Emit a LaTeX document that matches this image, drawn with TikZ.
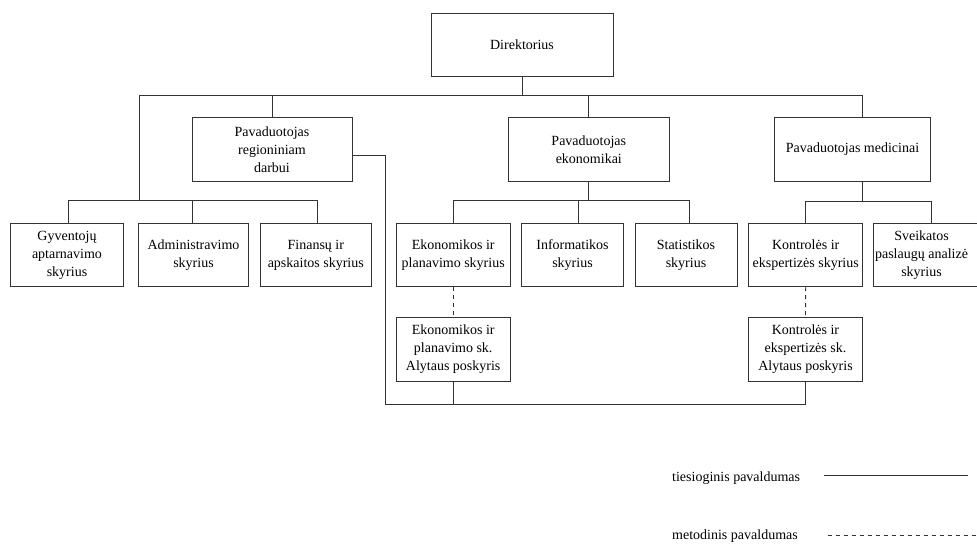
\documentclass[tikz,border=0pt]{standalone}
\usepackage{fontspec}
\setmainfont{Liberation Serif}
\newcommand\orgfs{\fontsize{14}{18}\selectfont}
\definecolor{lc}{gray}{0.2}
\tikzset{
  box/.style={draw=lc, line width=0.9pt, fill=white, align=center, inner sep=0pt,
              font=\orgfs, minimum height=63.5pt},
  conn/.style={draw=lc, line width=0.9pt},
  meth/.style={draw=lc, line width=0.9pt, dash pattern=on 4pt off 4pt},
}
\begin{document}
\begin{tikzpicture}[x=1pt,y=-1pt]
\useasboundingbox (0,0) rectangle (977,544);
\clip (0,0) rectangle (977,544);
% --- nodes
\node[box, minimum width=182pt] (dir) at (522,44.7) {Direktorius};
\node[box, minimum width=160pt] (reg) at (272,149.3) {Pavaduotojas\\regioniniam\\darbui};
\node[box, minimum width=161pt] (eko) at (588.8,149.3) {Pavaduotojas\\ekonomikai};
\node[box, minimum width=156pt] (med) at (852.5,149.3) {Pavaduotojas medicinai};

\node[box, minimum width=112.6pt] (gy)  at (67,255)    {Gyventojų\\aptarnavimo\\skyrius};
\node[box, minimum width=109.6pt] (adm) at (193.5,255) {Administravimo\\skyrius};
\node[box, minimum width=111pt]   (fin) at (315.8,255) {Finansų ir\\apskaitos skyrius};

\node[box, minimum width=113.7pt] (ekp) at (453.2,255) {Ekonomikos ir\\planavimo skyrius};
\node[box, minimum width=101.6pt] (inf) at (572.5,255) {Informatikos\\skyrius};
\node[box, minimum width=102pt]   (sta) at (686,255)   {Statistikos\\skyrius};

\node[box, minimum width=114pt] (kon) at (805.7,255) {Kontrolės ir\\ekspertizės skyrius};
\node[box, minimum width=116pt,
      label={[xshift=-9.5pt, align=center, font=\orgfs]center:Sveikatos\\paslaugų analizė\\skyrius}]
      (sve) at (931,255) {};

\node[box, minimum width=113.7pt] (ekA)  at (453.2,349.3) {Ekonomikos ir\\planavimo sk.\\Alytaus poskyris};
\node[box, minimum width=113.6pt] (konA) at (805.5,349.3) {Kontrolės ir\\ekspertizės sk.\\Alytaus poskyris};

% --- coordinates
\coordinate (lb) at (139,95);
\coordinate (rb) at (862,95);
\coordinate (ls) at (139,200);
\coordinate (es) at (0,200);
\coordinate (ms) at (0,201);
\coordinate (rc) at (385,404.3);

% --- top level
\draw[conn] (dir.south) -- (dir.south |- lb);
\draw[conn] (lb) -- (rb);
\draw[conn] (lb) -- (ls);
\draw[conn] (reg.north) -- (reg.north |- lb);
\draw[conn] (eko.north) -- (eko.north |- lb);
\draw[conn] (rb) -- (rb |- med.north);

% --- left group
\draw[conn] ([xshift=1.3pt]gy.north |- ls) -- ([xshift=1.5pt]fin.north |- ls);
\draw[conn] ([xshift=1.3pt]gy.north) -- ([xshift=1.3pt]gy.north |- ls);
\draw[conn] ([xshift=-1.2pt]adm.north) -- ([xshift=-1.2pt]adm.north |- ls);
\draw[conn] ([xshift=1.5pt]fin.north) -- ([xshift=1.5pt]fin.north |- ls);

% --- economics group
\draw[conn] (eko.south) -- (eko.south |- es);
\draw[conn] (ekp.north |- es) -- ([xshift=3.3pt]sta.north |- es);
\draw[conn] (ekp.north) -- (ekp.north |- es);
\draw[conn] ([xshift=6.2pt]inf.north) -- ([xshift=6.2pt]inf.north |- es);
\draw[conn] ([xshift=3.3pt]sta.north) -- ([xshift=3.3pt]sta.north |- es);

% --- medicine group
\draw[conn] ([xshift=9.5pt]med.south) -- ([xshift=9.5pt]med.south |- ms);
\draw[conn] (kon.north |- ms) -- (sve.north |- ms);
\draw[conn] (kon.north) -- (kon.north |- ms);
\draw[conn] (sve.north) -- (sve.north |- ms);

% --- methodical links
\draw[meth] (ekp.south) -- (ekA.north);
\draw[meth] (kon.south) -- (konA.north);

% --- regional link
\draw[conn] ([yshift=-6.4pt]reg.east) -| (rc) -- (konA.south |- rc);
\draw[conn] (ekA.south) -- (ekA.south |- rc);
\draw[conn] (konA.south) -- (konA.south |- rc);

% --- legend
\node[anchor=base west, font=\orgfs, inner sep=0pt] (lg1) at (672,481) {tiesioginis pavaldumas};
\node[anchor=base west, font=\orgfs, inner sep=0pt] (lg2) at (672,539.5) {metodinis pavaldumas};
\coordinate (l1a) at (824,475.7);
\coordinate (l1b) at (968.3,475.7);
\coordinate (l2a) at (827.7,535.5);
\coordinate (l2b) at (977,535.5);
\draw[conn] (l1a) -- (l1b);
\draw[meth] (l2a) -- (l2b);
\end{tikzpicture}
\end{document}
